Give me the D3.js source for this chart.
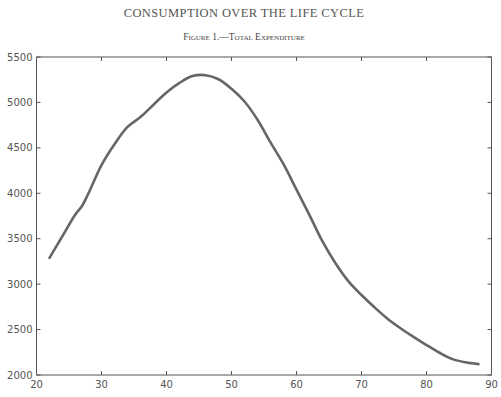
<!DOCTYPE html>
<html>
<head>
<meta charset="utf-8">
<script src="https://cdn.jsdelivr.net/npm/d3@7"></script>
<style>
  body { margin: 0; background: #fff; }
  svg { display: block; }
</style>
</head>
<body>
<svg id="chart"></svg>
<script>
const ages = [22, 24, 26, 27, 28, 30, 32, 34, 36, 38, 40, 42, 44, 46, 48, 50, 52, 54,
  56, 58, 60, 62, 64, 66, 68, 70, 72, 74, 76, 78, 80, 82, 84, 86, 88];
const expenditure = [3290, 3530, 3770, 3860, 4000, 4310, 4540, 4730, 4840, 4975, 5110,
  5215, 5290, 5300, 5255, 5150, 5010, 4810, 4560, 4320, 4040, 3760, 3470, 3230,
  3030, 2880, 2745, 2620, 2515, 2420, 2330, 2245, 2175, 2140, 2120];
const xTicks = [20, 30, 40, 50, 60, 70, 80, 90];
const yTicks = [2000, 2500, 3000, 3500, 4000, 4500, 5000, 5500];

const width = 501;
const height = 397;
const margin = { top: 57, right: 9.5, bottom: 22, left: 36.5 };

const svg = d3.select("#chart").attr("width", width).attr("height", height);

const x = d3.scaleLinear().domain([20, 90]).range([margin.left, width - margin.right]);
const y = d3.scaleLinear().domain([2000, 5500]).range([height - margin.bottom, margin.top]);

const axisColor = "#555";
const tickLen = 4;

// titles
svg.append("text")
  .attr("x", 244).attr("y", 17)
  .attr("text-anchor", "middle")
  .style("font-family", "'Liberation Serif', serif")
  .style("font-size", "12.5px")
  .style("letter-spacing", "0.4px")
  .style("fill", "#555")
  .text("CONSUMPTION OVER THE LIFE CYCLE");

svg.append("text")
  .attr("x", 244).attr("y", 40)
  .attr("text-anchor", "middle")
  .style("font-family", "'Liberation Serif', serif")
  .style("font-size", "9.5px")
  .style("font-variant", "small-caps")
  .style("fill", "#444")
  .text("Figure 1.—Total Expenditure");

// box
const g = svg.append("g");
g.append("rect")
  .attr("x", x(20)).attr("y", y(5500))
  .attr("width", x(90) - x(20)).attr("height", y(2000) - y(5500))
  .attr("fill", "none").attr("stroke", axisColor).attr("stroke-width", 1);

// ticks, pointing inward on all four sides
xTicks.forEach((t) => {
  g.append("line").attr("x1", x(t)).attr("x2", x(t))
    .attr("y1", y(2000)).attr("y2", y(2000) - tickLen)
    .attr("stroke", axisColor);
  g.append("line").attr("x1", x(t)).attr("x2", x(t))
    .attr("y1", y(5500)).attr("y2", y(5500) + tickLen)
    .attr("stroke", axisColor);
});
yTicks.forEach((t) => {
  g.append("line").attr("x1", x(20)).attr("x2", x(20) + tickLen)
    .attr("y1", y(t)).attr("y2", y(t))
    .attr("stroke", axisColor);
  g.append("line").attr("x1", x(90)).attr("x2", x(90) - tickLen)
    .attr("y1", y(t)).attr("y2", y(t))
    .attr("stroke", axisColor);
});

// tick labels
svg.selectAll(".xlab")
  .data(xTicks)
  .enter()
  .append("text")
  .attr("class", "xlab")
  .attr("x", (d) => x(d))
  .attr("y", y(2000) + 13)
  .attr("text-anchor", "middle")
  .style("font-family", "'DejaVu Sans', sans-serif")
  .style("font-size", "10px")
  .style("fill", "#555")
  .text((d) => d);

svg.selectAll(".ylab")
  .data(yTicks)
  .enter()
  .append("text")
  .attr("class", "ylab")
  .attr("x", x(20) - 4)
  .attr("y", (d) => y(d))
  .attr("dy", "0.35em")
  .attr("text-anchor", "end")
  .style("font-family", "'DejaVu Sans', sans-serif")
  .style("font-size", "10px")
  .style("fill", "#555")
  .text((d) => d);

// curve
const line = d3.line()
  .x((d, i) => x(ages[i]))
  .y((d) => y(d))
  .curve(d3.curveCatmullRom);

svg.append("path")
  .datum(expenditure)
  .attr("d", line)
  .attr("fill", "none")
  .attr("stroke", "#666")
  .attr("stroke-width", 2.6)
  .attr("stroke-linecap", "round");
</script>
</body>
</html>
